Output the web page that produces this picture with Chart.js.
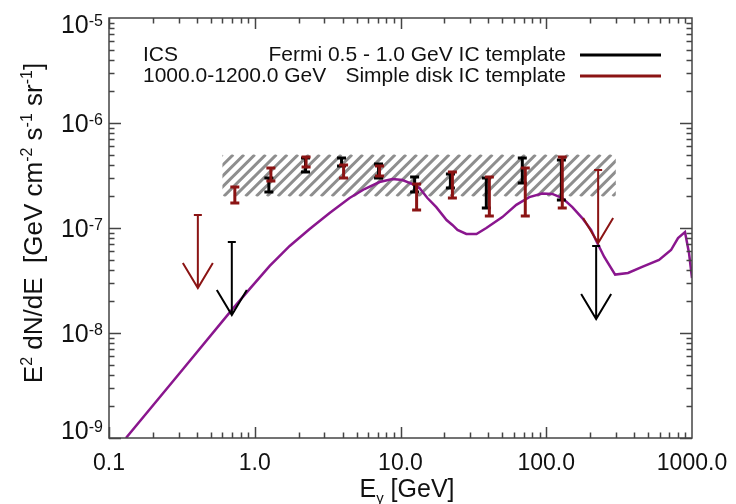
<!DOCTYPE html>
<html>
<head>
<meta charset="utf-8">
<script src="https://cdn.jsdelivr.net/npm/chart.js@4.4.1/dist/chart.umd.min.js"></script>
<style>
  body { margin: 0; background: #fff; }
  canvas { display: block; }
</style>
</head>
<body>
<canvas id="chart" width="736" height="504"></canvas>
<script>
// ICS model curve (purple)
const modelE = [0.1307, 0.306, 0.696, 0.924, 1.267, 1.737, 2.381, 3.264, 4.474, 5.667, 7.18, 8.81, 10.32, 12.08, 13.5, 15.3, 17.6, 20.7, 22.7, 24.6, 28.3, 33.2, 38.8, 50, 62.3, 76.5, 93.9, 110, 129, 151, 176, 203, 224, 250, 297, 364, 455, 594, 718, 802, 895, 954, 1000];
const modelF = [1.0e-9, 4.16e-9, 1.66e-8, 2.63e-8, 4.35e-8, 6.74e-8, 9.77e-8, 1.39e-7, 1.93e-7, 2.35e-7, 2.74e-7, 2.93e-7, 2.86e-7, 2.62e-7, 2.4e-7, 1.93e-7, 1.58e-7, 1.19e-7, 1.07e-7, 9.57e-8, 8.77e-8, 8.77e-8, 1.0e-7, 1.27e-7, 1.66e-7, 1.97e-7, 2.13e-7, 2.11e-7, 1.93e-7, 1.58e-7, 1.25e-7, 9.57e-8, 7.2e-8, 5.3e-8, 3.6e-8, 3.73e-8, 4.26e-8, 4.96e-8, 6.17e-8, 8.03e-8, 9.16e-8, 5.78e-8, 3.34e-8];

// Fermi 0.5 - 1.0 GeV IC template (black)
const fermiE = [1.25, 2.23, 3.94, 7.07, 12.5, 22.0, 38.8, 68.5, 127];
const fermiLo = [2.2e-7, 3.41e-7, 3.89e-7, 2.99e-7, 2.2e-7, 2.4e-7, 1.55e-7, 2.68e-7, 1.85e-7];
const fermiHi = [2.99e-7, 4.64e-7, 4.64e-7, 4.07e-7, 3.06e-7, 3.27e-7, 2.99e-7, 4.64e-7, 4.45e-7];
const fermiUlE = [0.696, 220];
const fermiUl = [7.36e-8, 6.74e-8];

// Simple disk IC template (dark red)
const diskE = [0.73, 1.29, 2.25, 4.07, 7.18, 12.9, 22.7, 40.7, 71.8, 128.8];
const diskLo = [1.73e-7, 2.81e-7, 3.81e-7, 2.99e-7, 3.13e-7, 1.48e-7, 1.93e-7, 1.3e-7, 1.3e-7, 1.55e-7];
const diskHi = [2.46e-7, 3.73e-7, 4.74e-7, 3.98e-7, 3.89e-7, 2.62e-7, 3.41e-7, 3.06e-7, 3.73e-7, 4.74e-7];
const diskUlE = [0.407, 227];
const diskUl = [1.33e-7, 3.56e-7];

// hatched band
const bandE = [0.6, 300];
const bandF = [2e-7, 5e-7];

const xTicks = [0.1, 1, 10, 100, 1000];
const xTickLabels = ["0.1", "1.0", "10.0", "100.0", "1000.0"];
const yTickExps = [-9, -8, -7, -6, -5];

const PURPLE = "#8a168e";
const RED = "#8b1414";
const BLACK = "#000";
const FONT = '"Liberation Sans", Arial, sans-serif';

function richWidth(ctx, parts) {
  let w = 0;
  for (const p of parts) {
    ctx.font = p.size + "px " + FONT;
    w += ctx.measureText(p.t).width;
  }
  return w;
}

// draws text pieces left to right; dy shifts a piece up (sup) or down (sub)
function drawRich(ctx, parts, x, y) {
  for (const p of parts) {
    ctx.font = p.size + "px " + FONT;
    ctx.fillText(p.t, x, y - (p.dy || 0));
    x += ctx.measureText(p.t).width;
  }
}

const decorations = {
  id: "decorations",
  beforeDatasetsDraw(chart) {
    const { ctx, scales } = chart;
    const xs = scales.x, ys = scales.y;
    // hatched band
    const x0 = xs.getPixelForValue(bandE[0]);
    const x1 = xs.getPixelForValue(bandE[1]);
    const y0 = ys.getPixelForValue(bandF[1]);
    const y1 = ys.getPixelForValue(bandF[0]);
    const h = y1 - y0;
    ctx.save();
    ctx.beginPath();
    ctx.rect(x0, y0, x1 - x0, h);
    ctx.clip();
    ctx.strokeStyle = "#8e8e8e";
    ctx.lineWidth = 2.9;
    for (let k = x0 - h; k < x1 + 5; k += 10.8) {
      ctx.beginPath();
      ctx.moveTo(k, y1);
      ctx.lineTo(k + h, y0);
      ctx.stroke();
    }
    ctx.restore();
  },
  afterDatasetsDraw(chart) {
    const { ctx, chartArea, scales } = chart;
    const xs = scales.x, ys = scales.y;
    const { left, right, top, bottom } = chartArea;

    function errBars(E, lo, hi, color) {
      ctx.strokeStyle = color;
      ctx.lineWidth = 3;
      E.forEach((e, i) => {
        const px = xs.getPixelForValue(e);
        const pl = ys.getPixelForValue(lo[i]);
        const ph = ys.getPixelForValue(hi[i]);
        ctx.beginPath();
        ctx.moveTo(px, pl); ctx.lineTo(px, ph);
        ctx.moveTo(px - 4.5, pl); ctx.lineTo(px + 4.5, pl);
        ctx.moveTo(px - 4.5, ph); ctx.lineTo(px + 4.5, ph);
        ctx.stroke();
      });
    }
    function limits(E, F, color) {
      ctx.strokeStyle = color;
      ctx.lineWidth = 2;
      E.forEach((e, i) => {
        const px = xs.getPixelForValue(e);
        const py = ys.getPixelForValue(F[i]);
        const tip = py + 73;
        ctx.beginPath();
        ctx.moveTo(px - 4, py); ctx.lineTo(px + 4, py);
        ctx.moveTo(px, py); ctx.lineTo(px, tip);
        ctx.moveTo(px - 15, tip - 25); ctx.lineTo(px, tip); ctx.lineTo(px + 15, tip - 25);
        ctx.stroke();
      });
    }
    errBars(fermiE, fermiLo, fermiHi, BLACK);
    errBars(diskE, diskLo, diskHi, RED);
    limits(fermiUlE, fermiUl, BLACK);
    limits(diskUlE, diskUl, RED);

    // frame and ticks
    ctx.save();
    ctx.strokeStyle = "#444";
    ctx.lineWidth = 1.5;
    ctx.strokeRect(left, top, right - left, bottom - top);
    ctx.beginPath();
    for (let d = -1; d < 3; d++) {
      for (let m = 1; m < 10; m++) {
        const v = m * Math.pow(10, d);
        const px = Math.round(xs.getPixelForValue(v)) + 0.5;
        const len = m === 1 ? 11 : 5.5;
        ctx.moveTo(px, bottom); ctx.lineTo(px, bottom - len);
        ctx.moveTo(px, top); ctx.lineTo(px, top + len);
      }
    }
    for (let d = -9; d < -5; d++) {
      for (let m = 1; m < 10; m++) {
        const v = m * Math.pow(10, d);
        const py = Math.round(ys.getPixelForValue(v)) + 0.5;
        const len = m === 1 ? 12 : 5.5;
        ctx.moveTo(left, py); ctx.lineTo(left + len, py);
        ctx.moveTo(right, py); ctx.lineTo(right - len, py);
      }
    }
    ctx.stroke();
    ctx.restore();

    // tick labels
    ctx.save();
    ctx.fillStyle = "#111";
    ctx.textBaseline = "alphabetic";
    ctx.font = "23px " + FONT;
    ctx.textAlign = "center";
    xTicks.forEach((v, i) => {
      ctx.fillText(xTickLabels[i], xs.getPixelForValue(v), bottom + 32);
    });
    ctx.textAlign = "left";
    yTickExps.forEach((e) => {
      const py = ys.getPixelForValue(Math.pow(10, e));
      const base = Math.min(Math.max(py + 8.5, top + 15), bottom + 1);
      const parts = [{ t: "10", size: 25 }, { t: "-" + Math.abs(e), size: 16, dy: 7 }];
      const w = richWidth(ctx, parts);
      drawRich(ctx, parts, 103 - w, base);
    });

    // axis titles
    const xt = [{ t: "E", size: 25 }, { t: "\u03b3", size: 15, dy: -6 }, { t: " [GeV]", size: 25 }];
    drawRich(ctx, xt, 407 - richWidth(ctx, xt) / 2, 497);

    const yt = [
      { t: "E", size: 26 }, { t: "2", size: 16, dy: 10 },
      { t: " dN/dE  [GeV cm", size: 26 }, { t: "-2", size: 16, dy: 10 },
      { t: " s", size: 26 }, { t: "-1", size: 16, dy: 10 },
      { t: " sr", size: 26 }, { t: "-1", size: 16, dy: 10 },
      { t: "]", size: 26 },
    ];
    ctx.translate(42, 223);
    ctx.rotate(-Math.PI / 2);
    drawRich(ctx, yt, -richWidth(ctx, yt) / 2, 0);
    ctx.restore();

    // legend
    ctx.save();
    ctx.fillStyle = "#111";
    ctx.font = "21px " + FONT;
    ctx.textAlign = "left";
    ctx.fillText("ICS", 143, 61);
    ctx.fillText("1000.0-1200.0 GeV", 143, 81.5);
    ctx.textAlign = "right";
    ctx.fillText("Fermi 0.5 - 1.0 GeV IC template", 566, 61);
    ctx.fillText("Simple disk IC template", 566, 81.5);
    ctx.lineWidth = 3;
    ctx.strokeStyle = BLACK;
    ctx.beginPath(); ctx.moveTo(580, 55); ctx.lineTo(661, 55); ctx.stroke();
    ctx.strokeStyle = RED;
    ctx.beginPath(); ctx.moveTo(580, 76); ctx.lineTo(661, 76); ctx.stroke();
    ctx.restore();
  },
};

new Chart(document.getElementById("chart"), {
  type: "line",
  data: {
    datasets: [{
      label: "ICS",
      data: modelE.map((e, i) => ({ x: e, y: modelF[i] })),
      borderColor: PURPLE,
      borderWidth: 2.5,
      pointRadius: 0,
      tension: 0,
      fill: false,
    }],
  },
  options: {
    responsive: false,
    animation: false,
    layout: { padding: { left: 109, top: 18, right: 44, bottom: 66 } },
    plugins: { legend: { display: false }, tooltip: { enabled: false } },
    scales: {
      x: { type: "logarithmic", min: 0.1, max: 1000, display: false },
      y: { type: "logarithmic", min: 1e-9, max: 1e-5, display: false },
    },
  },
  plugins: [decorations],
});
</script>
</body>
</html>
